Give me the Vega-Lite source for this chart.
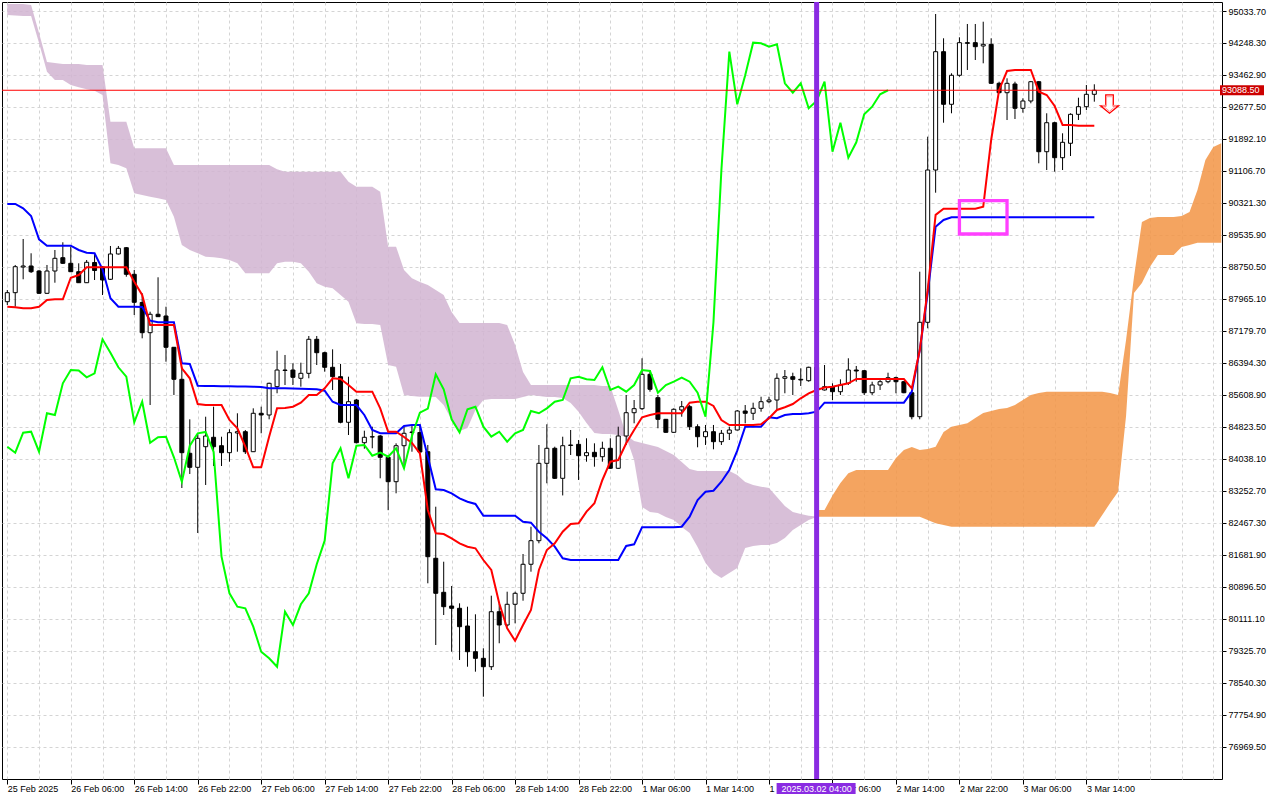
{
"$schema":"https://vega.github.io/schema/vega-lite/v6.json",
"width":1220,"height":777,
"autosize":{"type":"none"},
"padding":{"left":2,"top":2,"right":58,"bottom":21},
"background":"#ffffff",
"config":{"view":{"stroke":"#000000","strokeWidth":1},"axis":{"labelFont":"Liberation Sans","labelFontSize":9,"labelColor":"#000000","tickColor":"#000000","gridColor":"#d4d4d4","gridDash":[3,3]}},
"resolve":{"axis":{"x":"independent","y":"independent"}},
"datasets":{
"bars":[
{"t":"2025-02-25T22:00Z","o":87899,"h":88186,"l":87818,"c":88120,"tk":87776,"kj":90297,"ck":84340},
{"t":"2025-02-25T23:00Z","o":88120,"h":88800,"l":87776,"c":88758,"tk":87761,"kj":90297,"ck":84193},
{"t":"2025-02-26T00:00Z","o":88750,"h":89438,"l":88449,"c":88775,"tk":87737,"kj":90191,"ck":84684},
{"t":"2025-02-26T01:00Z","o":88775,"h":89087,"l":88603,"c":88635,"tk":87737,"kj":90002,"ck":84708},
{"t":"2025-02-26T02:00Z","o":88652,"h":88677,"l":88088,"c":88105,"tk":87776,"kj":89430,"ck":84217},
{"t":"2025-02-26T03:00Z","o":88105,"h":88800,"l":88088,"c":88652,"tk":87940,"kj":89273,"ck":85160},
{"t":"2025-02-26T04:00Z","o":88652,"h":89168,"l":88365,"c":88964,"tk":87958,"kj":89273,"ck":85118},
{"t":"2025-02-26T05:00Z","o":88979,"h":89357,"l":88824,"c":88841,"tk":87958,"kj":89273,"ck":85896},
{"t":"2025-02-26T06:00Z","o":88841,"h":89249,"l":88628,"c":88635,"tk":88488,"kj":89273,"ck":86222},
{"t":"2025-02-26T07:00Z","o":88635,"h":88841,"l":88358,"c":88365,"tk":88554,"kj":89168,"ck":86210},
{"t":"2025-02-26T08:00Z","o":88365,"h":88922,"l":88358,"c":88866,"tk":88743,"kj":89101,"ck":86043},
{"t":"2025-02-26T09:00Z","o":88861,"h":89094,"l":88431,"c":88665,"tk":88743,"kj":89087,"ck":86141},
{"t":"2025-02-26T10:00Z","o":88750,"h":88775,"l":88063,"c":88431,"tk":88743,"kj":88694,"ck":86976},
{"t":"2025-02-26T11:00Z","o":88449,"h":89266,"l":88431,"c":89070,"tk":88743,"kj":87982,"ck":86647},
{"t":"2025-02-26T12:00Z","o":89070,"h":89266,"l":89057,"c":89209,"tk":88743,"kj":87776,"ck":86289},
{"t":"2025-02-26T13:00Z","o":89224,"h":89241,"l":88512,"c":88571,"tk":88743,"kj":87776,"ck":86058},
{"t":"2025-02-26T14:00Z","o":88571,"h":88677,"l":87572,"c":87884,"tk":88390,"kj":87776,"ck":84939},
{"t":"2025-02-26T15:00Z","o":87879,"h":88105,"l":87000,"c":87138,"tk":88063,"kj":87769,"ck":85444},
{"t":"2025-02-26T16:00Z","o":87138,"h":87653,"l":85363,"c":87590,"tk":87327,"kj":87432,"ck":84438},
{"t":"2025-02-26T17:00Z","o":87590,"h":88498,"l":87523,"c":87531,"tk":87327,"kj":87393,"ck":84571},
{"t":"2025-02-26T18:00Z","o":87548,"h":87776,"l":86426,"c":86780,"tk":87327,"kj":87393,"ck":84585},
{"t":"2025-02-26T19:00Z","o":86780,"h":86787,"l":85609,"c":85994,"tk":87327,"kj":87393,"ck":84080},
{"t":"2025-02-26T20:00Z","o":85994,"h":86303,"l":83326,"c":84193,"tk":86264,"kj":86387,"ck":83481},
{"t":"2025-02-26T21:00Z","o":84178,"h":85012,"l":83670,"c":83834,"tk":86019,"kj":86370,"ck":84364},
{"t":"2025-02-26T22:00Z","o":83834,"h":84669,"l":82222,"c":84546,"tk":85388,"kj":85837,"ck":84669},
{"t":"2025-02-26T23:00Z","o":84340,"h":85076,"l":83400,"c":84603,"tk":85363,"kj":85830,"ck":84701},
{"t":"2025-02-27T00:00Z","o":84571,"h":85322,"l":83866,"c":84340,"tk":85363,"kj":85830,"ck":84210},
{"t":"2025-02-27T01:00Z","o":84364,"h":84585,"l":83866,"c":84193,"tk":85363,"kj":85822,"ck":81640},
{"t":"2025-02-27T02:00Z","o":84193,"h":84767,"l":83972,"c":84684,"tk":84995,"kj":85822,"ck":80742},
{"t":"2025-02-27T03:00Z","o":84676,"h":85160,"l":84217,"c":84708,"tk":84792,"kj":85818,"ck":80413},
{"t":"2025-02-27T04:00Z","o":84708,"h":84750,"l":84161,"c":84217,"tk":84340,"kj":85818,"ck":80374},
{"t":"2025-02-27T05:00Z","o":84217,"h":85282,"l":84210,"c":85160,"tk":83834,"kj":85813,"ck":79922},
{"t":"2025-02-27T06:00Z","o":85160,"h":85322,"l":84669,"c":85118,"tk":83834,"kj":85805,"ck":79308},
{"t":"2025-02-27T07:00Z","o":85118,"h":85911,"l":85012,"c":85896,"tk":84585,"kj":85773,"ck":79146},
{"t":"2025-02-27T08:00Z","o":85813,"h":86696,"l":85651,"c":86222,"tk":85282,"kj":85773,"ck":78940},
{"t":"2025-02-27T09:00Z","o":86222,"h":86591,"l":85854,"c":86210,"tk":85290,"kj":85773,"ck":80290},
{"t":"2025-02-27T10:00Z","o":86222,"h":86387,"l":85854,"c":86043,"tk":85322,"kj":85768,"ck":79964},
{"t":"2025-02-27T11:00Z","o":86019,"h":86402,"l":85813,"c":86141,"tk":85420,"kj":85763,"ck":80472},
{"t":"2025-02-27T12:00Z","o":86141,"h":87057,"l":86019,"c":86976,"tk":85609,"kj":85756,"ck":80742},
{"t":"2025-02-27T13:00Z","o":86976,"h":87057,"l":86345,"c":86647,"tk":85609,"kj":85749,"ck":81454},
{"t":"2025-02-27T14:00Z","o":86647,"h":86672,"l":86181,"c":86289,"tk":85773,"kj":85714,"ck":82033},
{"t":"2025-02-27T15:00Z","o":86289,"h":86730,"l":85732,"c":86058,"tk":86019,"kj":85444,"ck":83932},
{"t":"2025-02-27T16:00Z","o":86058,"h":86370,"l":84914,"c":84939,"tk":86002,"kj":85363,"ck":84301},
{"t":"2025-02-27T17:00Z","o":84939,"h":86058,"l":84627,"c":85444,"tk":85854,"kj":85363,"ck":83564},
{"t":"2025-02-27T18:00Z","o":85486,"h":85511,"l":84423,"c":84438,"tk":85690,"kj":85363,"ck":84364},
{"t":"2025-02-27T19:00Z","o":84438,"h":84733,"l":84291,"c":84571,"tk":85690,"kj":85118,"ck":84382},
{"t":"2025-02-27T20:00Z","o":84578,"h":84831,"l":84301,"c":84585,"tk":85690,"kj":84750,"ck":84119},
{"t":"2025-02-27T21:00Z","o":84603,"h":84627,"l":83564,"c":84080,"tk":85282,"kj":84669,"ck":84193},
{"t":"2025-02-27T22:00Z","o":84080,"h":84136,"l":82782,"c":83481,"tk":84708,"kj":84669,"ck":84094},
{"t":"2025-02-27T23:00Z","o":83481,"h":84423,"l":83196,"c":84364,"tk":84708,"kj":84669,"ck":84301},
{"t":"2025-02-28T00:00Z","o":84364,"h":84831,"l":83810,"c":84669,"tk":84578,"kj":84848,"ck":83810},
{"t":"2025-02-28T01:00Z","o":84688,"h":84873,"l":84217,"c":84701,"tk":84431,"kj":84873,"ck":84603},
{"t":"2025-02-28T02:00Z","o":84688,"h":84873,"l":84185,"c":84210,"tk":84178,"kj":84873,"ck":85174},
{"t":"2025-02-28T03:00Z","o":84217,"h":84382,"l":80987,"c":81640,"tk":82786,"kj":84094,"ck":85273},
{"t":"2025-02-28T04:00Z","o":81601,"h":82867,"l":79473,"c":80742,"tk":82214,"kj":83294,"ck":86117},
{"t":"2025-02-28T05:00Z","o":80766,"h":81517,"l":80209,"c":80413,"tk":82197,"kj":83277,"ck":85749},
{"t":"2025-02-28T06:00Z","o":80430,"h":80921,"l":79308,"c":80374,"tk":82092,"kj":83196,"ck":85012},
{"t":"2025-02-28T07:00Z","o":80374,"h":80496,"l":79105,"c":79922,"tk":81969,"kj":83073,"ck":84693},
{"t":"2025-02-28T08:00Z","o":79939,"h":80413,"l":78940,"c":79308,"tk":81886,"kj":82990,"ck":85258},
{"t":"2025-02-28T09:00Z","o":79308,"h":80226,"l":78818,"c":79146,"tk":81846,"kj":82934,"ck":85322},
{"t":"2025-02-28T10:00Z","o":79146,"h":79392,"l":78204,"c":78940,"tk":81559,"kj":82646,"ck":84831},
{"t":"2025-02-28T11:00Z","o":78940,"h":80683,"l":78859,"c":80290,"tk":81314,"kj":82646,"ck":84585},
{"t":"2025-02-28T12:00Z","o":80290,"h":80496,"l":79515,"c":79964,"tk":80496,"kj":82646,"ck":84708},
{"t":"2025-02-28T13:00Z","o":79964,"h":80781,"l":79922,"c":80472,"tk":79883,"kj":82646,"ck":84463},
{"t":"2025-02-28T14:00Z","o":80472,"h":80781,"l":80005,"c":80742,"tk":79578,"kj":82646,"ck":84669},
{"t":"2025-02-28T15:00Z","o":80742,"h":81706,"l":80560,"c":81454,"tk":79964,"kj":82499,"ck":84750},
{"t":"2025-02-28T16:00Z","o":81454,"h":82376,"l":81272,"c":82033,"tk":80332,"kj":82475,"ck":85216},
{"t":"2025-02-28T17:00Z","o":82033,"h":84382,"l":81969,"c":83932,"tk":81314,"kj":82254,"ck":85160},
{"t":"2025-02-28T18:00Z","o":83932,"h":84890,"l":83442,"c":84301,"tk":81805,"kj":82092,"ck":85282},
{"t":"2025-02-28T19:00Z","o":84301,"h":84340,"l":83547,"c":83564,"tk":81969,"kj":81886,"ck":85444},
{"t":"2025-02-28T20:00Z","o":83564,"h":84585,"l":83144,"c":84364,"tk":82254,"kj":81601,"ck":85486},
{"t":"2025-02-28T21:00Z","o":84369,"h":84750,"l":84136,"c":84382,"tk":82443,"kj":81559,"ck":86019},
{"t":"2025-02-28T22:00Z","o":84398,"h":84504,"l":83523,"c":84119,"tk":82460,"kj":81559,"ck":86058},
{"t":"2025-02-28T23:00Z","o":84119,"h":84546,"l":83972,"c":84193,"tk":82745,"kj":81559,"ck":85994},
{"t":"2025-03-01T00:00Z","o":84202,"h":84423,"l":83849,"c":84094,"tk":82951,"kj":81559,"ck":85977},
{"t":"2025-03-01T01:00Z","o":84094,"h":84463,"l":83972,"c":84301,"tk":83523,"kj":81559,"ck":86289},
{"t":"2025-03-01T02:00Z","o":84301,"h":84546,"l":83793,"c":83810,"tk":83972,"kj":81559,"ck":85732},
{"t":"2025-03-01T03:00Z","o":83810,"h":84831,"l":83793,"c":84603,"tk":84013,"kj":81559,"ck":85813},
{"t":"2025-03-01T04:00Z","o":84603,"h":85609,"l":84382,"c":85174,"tk":84423,"kj":81903,"ck":85690},
{"t":"2025-03-01T05:00Z","o":85174,"h":85486,"l":84914,"c":85273,"tk":84750,"kj":81944,"ck":85854},
{"t":"2025-03-01T06:00Z","o":85273,"h":86510,"l":85241,"c":86117,"tk":85062,"kj":82362,"ck":86222},
{"t":"2025-03-01T07:00Z","o":86117,"h":86222,"l":85690,"c":85749,"tk":85118,"kj":82362,"ck":86198},
{"t":"2025-03-01T08:00Z","o":85543,"h":85609,"l":84792,"c":85012,"tk":85160,"kj":82362,"ck":85665},
{"t":"2025-03-01T09:00Z","o":85012,"h":85020,"l":84684,"c":84693,"tk":85160,"kj":82362,"ck":85854},
{"t":"2025-03-01T10:00Z","o":84693,"h":85282,"l":84684,"c":85258,"tk":85160,"kj":82362,"ck":85935},
{"t":"2025-03-01T11:00Z","o":85241,"h":85462,"l":85076,"c":85322,"tk":85160,"kj":82376,"ck":86033},
{"t":"2025-03-01T12:00Z","o":85322,"h":85363,"l":84750,"c":84831,"tk":85420,"kj":82622,"ck":85935},
{"t":"2025-03-01T13:00Z","o":84831,"h":84890,"l":84325,"c":84585,"tk":85444,"kj":83032,"ck":85665},
{"t":"2025-03-01T14:00Z","o":84585,"h":84873,"l":84382,"c":84708,"tk":85444,"kj":83235,"ck":85076},
{"t":"2025-03-01T15:00Z","o":84708,"h":84873,"l":84276,"c":84463,"tk":85339,"kj":83260,"ck":87393},
{"t":"2025-03-01T16:00Z","o":84463,"h":84750,"l":84382,"c":84669,"tk":84995,"kj":83481,"ck":91131},
{"t":"2025-03-01T17:00Z","o":84669,"h":84831,"l":84504,"c":84750,"tk":84873,"kj":83768,"ck":94035},
{"t":"2025-03-01T18:00Z","o":84750,"h":85241,"l":84738,"c":85216,"tk":84873,"kj":84242,"ck":92744},
{"t":"2025-03-01T19:00Z","o":85216,"h":85363,"l":84914,"c":85160,"tk":84873,"kj":84831,"ck":93456},
{"t":"2025-03-01T20:00Z","o":85160,"h":85420,"l":84995,"c":85282,"tk":84873,"kj":84831,"ck":94256},
{"t":"2025-03-01T21:00Z","o":85282,"h":85567,"l":85199,"c":85444,"tk":84890,"kj":84831,"ck":94241},
{"t":"2025-03-01T22:00Z","o":85444,"h":85567,"l":85405,"c":85486,"tk":85037,"kj":85062,"ck":94158},
{"t":"2025-03-01T23:00Z","o":85486,"h":86141,"l":85241,"c":86019,"tk":85241,"kj":85037,"ck":94216},
{"t":"2025-03-02T00:00Z","o":86019,"h":86222,"l":85651,"c":86058,"tk":85307,"kj":85118,"ck":93259},
{"t":"2025-03-02T01:00Z","o":86058,"h":86156,"l":85609,"c":85994,"tk":85388,"kj":85142,"ck":93028},
{"t":"2025-03-02T02:00Z","o":85994,"h":86264,"l":85830,"c":85977,"tk":85528,"kj":85142,"ck":93259},
{"t":"2025-03-02T03:00Z","o":85960,"h":86303,"l":85935,"c":86289,"tk":85651,"kj":85160,"ck":92646},
{"t":"2025-03-02T04:00Z","o":86289,"h":86321,"l":85682,"c":85732,"tk":85732,"kj":85199,"ck":92825},
{"t":"2025-03-02T05:00Z","o":85732,"h":86345,"l":85719,"c":85813,"tk":85793,"kj":85420,"ck":93298},
{"t":"2025-03-02T06:00Z","o":85813,"h":85896,"l":85486,"c":85690,"tk":85813,"kj":85420,"ck":91580},
{"t":"2025-03-02T07:00Z","o":85690,"h":85994,"l":85609,"c":85854,"tk":85854,"kj":85420,"ck":92292},
{"t":"2025-03-02T08:00Z","o":85896,"h":86510,"l":85854,"c":86222,"tk":85896,"kj":85420,"ck":91433},
{"t":"2025-03-02T09:00Z","o":86222,"h":86321,"l":85935,"c":86198,"tk":86002,"kj":85420,"ck":91811},
{"t":"2025-03-02T10:00Z","o":86205,"h":86222,"l":85609,"c":85665,"tk":86002,"kj":85420,"ck":92498},
{"t":"2025-03-02T11:00Z","o":85665,"h":85935,"l":85609,"c":85854,"tk":86002,"kj":85420,"ck":92685},
{"t":"2025-03-02T12:00Z","o":85854,"h":86019,"l":85732,"c":85935,"tk":86002,"kj":85420,"ck":92989},
{"t":"2025-03-02T13:00Z","o":85935,"h":86156,"l":85896,"c":86033,"tk":86002,"kj":85420,"ck":93088.5},
{"t":"2025-03-02T14:00Z","o":86033,"h":86058,"l":85651,"c":85935,"tk":86002,"kj":85420},
{"t":"2025-03-02T15:00Z","o":85935,"h":85952,"l":85651,"c":85665,"tk":86002,"kj":85420},
{"t":"2025-03-02T16:00Z","o":85665,"h":85682,"l":85012,"c":85076,"tk":85773,"kj":85690},
{"t":"2025-03-02T17:00Z","o":85076,"h":88635,"l":85012,"c":87393,"tk":86713,"kj":86713},
{"t":"2025-03-02T18:00Z","o":87393,"h":91949,"l":87246,"c":91131,"tk":88186,"kj":88105},
{"t":"2025-03-02T19:00Z","o":91131,"h":94960,"l":90574,"c":94035,"tk":90030,"kj":89740},
{"t":"2025-03-02T20:00Z","o":94035,"h":94364,"l":92292,"c":92744,"tk":90180,"kj":89904},
{"t":"2025-03-02T21:00Z","o":92744,"h":93505,"l":92523,"c":93456,"tk":90180,"kj":89970},
{"t":"2025-03-02T22:00Z","o":93456,"h":94388,"l":93421,"c":94256,"tk":90180,"kj":89970},
{"t":"2025-03-02T23:00Z","o":94256,"h":94715,"l":93586,"c":94241,"tk":90180,"kj":89970},
{"t":"2025-03-03T00:00Z","o":94256,"h":94715,"l":93831,"c":94158,"tk":90180,"kj":89970},
{"t":"2025-03-03T01:00Z","o":94175,"h":94771,"l":93750,"c":94216,"tk":90230,"kj":89970},
{"t":"2025-03-03T02:00Z","o":94216,"h":94364,"l":93242,"c":93259,"tk":91868,"kj":89970},
{"t":"2025-03-03T03:00Z","o":93259,"h":93298,"l":93014,"c":93028,"tk":93095,"kj":89970},
{"t":"2025-03-03T04:00Z","o":93028,"h":93382,"l":92358,"c":93259,"tk":93561,"kj":89970},
{"t":"2025-03-03T05:00Z","o":93242,"h":93298,"l":92383,"c":92646,"tk":93586,"kj":89970},
{"t":"2025-03-03T06:00Z","o":92646,"h":92891,"l":92538,"c":92825,"tk":93586,"kj":89970},
{"t":"2025-03-03T07:00Z","o":92825,"h":93316,"l":92768,"c":93298,"tk":93586,"kj":89970},
{"t":"2025-03-03T08:00Z","o":93298,"h":93316,"l":91296,"c":91580,"tk":93053,"kj":89970},
{"t":"2025-03-03T09:00Z","o":91580,"h":92523,"l":91131,"c":92292,"tk":92972,"kj":89970},
{"t":"2025-03-03T10:00Z","o":92292,"h":92317,"l":91090,"c":91433,"tk":92702,"kj":89970},
{"t":"2025-03-03T11:00Z","o":91433,"h":92032,"l":91131,"c":91811,"tk":92236,"kj":89970},
{"t":"2025-03-03T12:00Z","o":91787,"h":92523,"l":91475,"c":92498,"tk":92236,"kj":89970},
{"t":"2025-03-03T13:00Z","o":92498,"h":92906,"l":92358,"c":92685,"tk":92219,"kj":89970},
{"t":"2025-03-03T14:00Z","o":92685,"h":93217,"l":92604,"c":92989,"tk":92219,"kj":89970},
{"t":"2025-03-03T15:00Z","o":92989,"h":93235,"l":92808,"c":93088.5,"tk":92219,"kj":89970}
],
"kumo":[
{"t":"2025-02-25T22:00Z","u":95206,"d":94936,"k":"bear"},
{"t":"2025-02-25T23:00Z","u":95206,"d":94923,"k":"bear"},
{"t":"2025-02-26T00:00Z","u":95206,"d":94911,"k":"bear"},
{"t":"2025-02-26T01:00Z","u":95181,"d":94911,"k":"bear"},
{"t":"2025-02-26T02:00Z","u":94494,"d":94248,"k":"bear"},
{"t":"2025-02-26T03:00Z","u":93782,"d":93544,"k":"bear"},
{"t":"2025-02-26T04:00Z","u":93757,"d":93340,"k":"bear"},
{"t":"2025-02-26T05:00Z","u":93733,"d":93340,"k":"bear"},
{"t":"2025-02-26T06:00Z","u":93733,"d":93217,"k":"bear"},
{"t":"2025-02-26T07:00Z","u":93733,"d":93161,"k":"bear"},
{"t":"2025-02-26T08:00Z","u":93708,"d":93112,"k":"bear"},
{"t":"2025-02-26T09:00Z","u":93708,"d":93078,"k":"bear"},
{"t":"2025-02-26T10:00Z","u":93708,"d":92972,"k":"bear"},
{"t":"2025-02-26T11:00Z","u":92317,"d":91296,"k":"bear"},
{"t":"2025-02-26T12:00Z","u":92317,"d":91254,"k":"bear"},
{"t":"2025-02-26T13:00Z","u":92317,"d":91173,"k":"bear"},
{"t":"2025-02-26T14:00Z","u":91664,"d":90559,"k":"bear"},
{"t":"2025-02-26T15:00Z","u":91664,"d":90518,"k":"bear"},
{"t":"2025-02-26T16:00Z","u":91664,"d":90476,"k":"bear"},
{"t":"2025-02-26T17:00Z","u":91664,"d":90437,"k":"bear"},
{"t":"2025-02-26T18:00Z","u":91664,"d":90395,"k":"bear"},
{"t":"2025-02-26T19:00Z","u":91254,"d":89985,"k":"bear"},
{"t":"2025-02-26T20:00Z","u":91254,"d":89290,"k":"bear"},
{"t":"2025-02-26T21:00Z","u":91254,"d":89168,"k":"bear"},
{"t":"2025-02-26T22:00Z","u":91254,"d":89087,"k":"bear"},
{"t":"2025-02-26T23:00Z","u":91254,"d":89003,"k":"bear"},
{"t":"2025-02-27T00:00Z","u":91254,"d":88989,"k":"bear"},
{"t":"2025-02-27T01:00Z","u":91254,"d":88964,"k":"bear"},
{"t":"2025-02-27T02:00Z","u":91254,"d":88922,"k":"bear"},
{"t":"2025-02-27T03:00Z","u":91254,"d":88841,"k":"bear"},
{"t":"2025-02-27T04:00Z","u":91254,"d":88596,"k":"bear"},
{"t":"2025-02-27T07:00Z","u":91254,"d":88596,"k":"bear"},
{"t":"2025-02-27T08:00Z","u":91148,"d":88841,"k":"bear"},
{"t":"2025-02-27T09:00Z","u":91090,"d":88881,"k":"bear"},
{"t":"2025-02-27T10:00Z","u":91090,"d":88881,"k":"bear"},
{"t":"2025-02-27T11:00Z","u":91090,"d":88841,"k":"bear"},
{"t":"2025-02-27T12:00Z","u":91090,"d":88635,"k":"bear"},
{"t":"2025-02-27T13:00Z","u":91090,"d":88350,"k":"bear"},
{"t":"2025-02-27T14:00Z","u":91090,"d":88267,"k":"bear"},
{"t":"2025-02-27T15:00Z","u":91090,"d":88228,"k":"bear"},
{"t":"2025-02-27T16:00Z","u":91090,"d":88063,"k":"bear"},
{"t":"2025-02-27T17:00Z","u":90844,"d":87899,"k":"bear"},
{"t":"2025-02-27T18:00Z","u":90721,"d":87369,"k":"bear"},
{"t":"2025-02-27T19:00Z","u":90721,"d":87351,"k":"bear"},
{"t":"2025-02-27T20:00Z","u":90721,"d":87351,"k":"bear"},
{"t":"2025-02-27T21:00Z","u":90599,"d":87327,"k":"bear"},
{"t":"2025-02-27T22:00Z","u":89249,"d":86345,"k":"bear"},
{"t":"2025-02-27T23:00Z","u":89249,"d":86303,"k":"bear"},
{"t":"2025-02-28T00:00Z","u":88677,"d":85609,"k":"bear"},
{"t":"2025-02-28T01:00Z","u":88473,"d":85584,"k":"bear"},
{"t":"2025-02-28T02:00Z","u":88382,"d":85567,"k":"bear"},
{"t":"2025-02-28T03:00Z","u":88309,"d":85567,"k":"bear"},
{"t":"2025-02-28T04:00Z","u":88186,"d":85560,"k":"bear"},
{"t":"2025-02-28T05:00Z","u":88063,"d":85363,"k":"bear"},
{"t":"2025-02-28T06:00Z","u":87646,"d":84995,"k":"bear"},
{"t":"2025-02-28T07:00Z","u":87376,"d":84725,"k":"bear"},
{"t":"2025-02-28T08:00Z","u":87376,"d":84799,"k":"bear"},
{"t":"2025-02-28T09:00Z","u":87376,"d":85241,"k":"bear"},
{"t":"2025-02-28T10:00Z","u":87376,"d":85486,"k":"bear"},
{"t":"2025-02-28T11:00Z","u":87376,"d":85511,"k":"bear"},
{"t":"2025-02-28T12:00Z","u":87376,"d":85511,"k":"bear"},
{"t":"2025-02-28T13:00Z","u":87327,"d":85511,"k":"bear"},
{"t":"2025-02-28T14:00Z","u":86836,"d":85511,"k":"bear"},
{"t":"2025-02-28T15:00Z","u":86173,"d":85560,"k":"bear"},
{"t":"2025-02-28T16:00Z","u":85854,"d":85609,"k":"bear"},
{"t":"2025-02-28T17:00Z","u":85854,"d":85584,"k":"bear"},
{"t":"2025-02-28T18:00Z","u":85854,"d":85560,"k":"bear"},
{"t":"2025-02-28T19:00Z","u":85854,"d":85560,"k":"bear"},
{"t":"2025-02-28T20:00Z","u":85854,"d":85535,"k":"bear"},
{"t":"2025-02-28T21:00Z","u":85854,"d":85412,"k":"bear"},
{"t":"2025-02-28T22:00Z","u":85854,"d":85199,"k":"bear"},
{"t":"2025-02-28T23:00Z","u":85854,"d":84922,"k":"bear"},
{"t":"2025-03-01T00:00Z","u":85854,"d":84676,"k":"bear"},
{"t":"2025-03-01T01:00Z","u":85830,"d":84652,"k":"bear"},
{"t":"2025-03-01T02:00Z","u":85830,"d":84652,"k":"bear"},
{"t":"2025-03-01T03:00Z","u":85241,"d":84627,"k":"bear"},
{"t":"2025-03-01T04:00Z","u":84627,"d":84578,"k":"bear"},
{"t":"2025-03-01T05:00Z","u":84480,"d":84013,"k":"bear"},
{"t":"2025-03-01T06:00Z","u":84431,"d":82860,"k":"bear"},
{"t":"2025-03-01T07:00Z","u":84382,"d":82737,"k":"bear"},
{"t":"2025-03-01T08:00Z","u":84333,"d":82713,"k":"bear"},
{"t":"2025-03-01T09:00Z","u":84234,"d":82614,"k":"bear"},
{"t":"2025-03-01T10:00Z","u":84136,"d":82541,"k":"bear"},
{"t":"2025-03-01T11:00Z","u":83964,"d":82369,"k":"bear"},
{"t":"2025-03-01T12:00Z","u":83793,"d":82222,"k":"bear"},
{"t":"2025-03-01T13:00Z","u":83744,"d":81878,"k":"bear"},
{"t":"2025-03-01T14:00Z","u":83744,"d":81485,"k":"bear"},
{"t":"2025-03-01T15:00Z","u":83744,"d":81240,"k":"bear"},
{"t":"2025-03-01T16:00Z","u":83744,"d":81117,"k":"bear"},
{"t":"2025-03-01T17:00Z","u":83744,"d":81240,"k":"bear"},
{"t":"2025-03-01T18:00Z","u":83645,"d":81363,"k":"bear"},
{"t":"2025-03-01T19:00Z","u":83474,"d":81854,"k":"bear"},
{"t":"2025-03-01T20:00Z","u":83400,"d":81903,"k":"bear"},
{"t":"2025-03-01T21:00Z","u":83358,"d":81927,"k":"bear"},
{"t":"2025-03-01T22:00Z","u":83326,"d":81927,"k":"bear"},
{"t":"2025-03-01T23:00Z","u":83105,"d":81976,"k":"bear"},
{"t":"2025-03-02T00:00Z","u":82884,"d":82099,"k":"bear"},
{"t":"2025-03-02T01:00Z","u":82737,"d":82295,"k":"bear"},
{"t":"2025-03-02T02:00Z","u":82688,"d":82418,"k":"bear"},
{"t":"2025-03-02T03:00Z","u":82646,"d":82541,"k":"bear"},
{"t":"2025-03-02T04:00Z","u":82627,"d":82614,"k":"bear"},
{"t":"2025-03-02T04:00Z","u":82786,"d":82622,"k":"bull"},
{"t":"2025-03-02T05:00Z","u":82786,"d":82622,"k":"bull"},
{"t":"2025-03-02T06:00Z","u":83144,"d":82622,"k":"bull"},
{"t":"2025-03-02T07:00Z","u":83449,"d":82622,"k":"bull"},
{"t":"2025-03-02T08:00Z","u":83687,"d":82622,"k":"bull"},
{"t":"2025-03-02T09:00Z","u":83768,"d":82622,"k":"bull"},
{"t":"2025-03-02T13:00Z","u":83768,"d":82622,"k":"bull"},
{"t":"2025-03-02T14:00Z","u":84063,"d":82622,"k":"bull"},
{"t":"2025-03-02T15:00Z","u":84259,"d":82622,"k":"bull"},
{"t":"2025-03-02T16:00Z","u":84333,"d":82622,"k":"bull"},
{"t":"2025-03-02T17:00Z","u":84259,"d":82622,"k":"bull"},
{"t":"2025-03-02T18:00Z","u":84283,"d":82541,"k":"bull"},
{"t":"2025-03-02T19:00Z","u":84340,"d":82460,"k":"bull"},
{"t":"2025-03-02T20:00Z","u":84701,"d":82418,"k":"bull"},
{"t":"2025-03-02T21:00Z","u":84831,"d":82376,"k":"bull"},
{"t":"2025-03-02T22:00Z","u":84873,"d":82376,"k":"bull"},
{"t":"2025-03-02T23:00Z","u":84914,"d":82376,"k":"bull"},
{"t":"2025-03-03T00:00Z","u":85044,"d":82376,"k":"bull"},
{"t":"2025-03-03T01:00Z","u":85167,"d":82376,"k":"bull"},
{"t":"2025-03-03T02:00Z","u":85216,"d":82376,"k":"bull"},
{"t":"2025-03-03T03:00Z","u":85265,"d":82376,"k":"bull"},
{"t":"2025-03-03T04:00Z","u":85290,"d":82376,"k":"bull"},
{"t":"2025-03-03T05:00Z","u":85363,"d":82376,"k":"bull"},
{"t":"2025-03-03T06:00Z","u":85486,"d":82376,"k":"bull"},
{"t":"2025-03-03T07:00Z","u":85609,"d":82376,"k":"bull"},
{"t":"2025-03-03T08:00Z","u":85658,"d":82376,"k":"bull"},
{"t":"2025-03-03T09:00Z","u":85690,"d":82376,"k":"bull"},
{"t":"2025-03-03T15:00Z","u":85690,"d":82376,"k":"bull"},
{"t":"2025-03-03T16:00Z","u":85690,"d":82664,"k":"bull"},
{"t":"2025-03-03T17:00Z","u":85658,"d":82958,"k":"bull"},
{"t":"2025-03-03T18:00Z","u":85609,"d":83235,"k":"bull"},
{"t":"2025-03-03T19:00Z","u":86959,"d":85093,"k":"bull"},
{"t":"2025-03-03T20:00Z","u":88505,"d":88112,"k":"bull"},
{"t":"2025-03-03T21:00Z","u":89855,"d":88358,"k":"bull"},
{"t":"2025-03-03T22:00Z","u":89953,"d":88750,"k":"bull"},
{"t":"2025-03-03T23:00Z","u":89978,"d":89045,"k":"bull"},
{"t":"2025-03-04T01:00Z","u":89978,"d":89045,"k":"bull"},
{"t":"2025-03-04T02:00Z","u":90002,"d":89241,"k":"bull"},
{"t":"2025-03-04T03:00Z","u":90100,"d":89290,"k":"bull"},
{"t":"2025-03-04T04:00Z","u":90640,"d":89347,"k":"bull"},
{"t":"2025-03-04T05:00Z","u":91377,"d":89347,"k":"bull"},
{"t":"2025-03-04T06:00Z","u":91696,"d":89347,"k":"bull"},
{"t":"2025-03-04T07:00Z","u":91790,"d":89347,"k":"bull"}
]
},
"layer":[
{"data":{"name":"kumo"},
 "mark":{"type":"area","clip":true,"opacity":0.85,"interpolate":"linear"},
 "encoding":{
  "x":{"field":"t","type":"temporal","scale":{"type":"utc","domain":[1740520665000,1741069665000]},
   "axis":{"orient":"bottom","values":[1740520800000,1740535200000,1740549600000,1740564000000,1740578400000,1740592800000,1740607200000,1740621600000,1740636000000,1740650400000,1740664800000,1740679200000,1740693600000,1740708000000,1740722400000,1740736800000,1740751200000,1740765600000,1740780000000,1740794400000,1740808800000,1740823200000,1740837600000,1740852000000,1740866400000,1740880800000,1740895200000,1740909600000,1740924000000,1740938400000,1740952800000,1740967200000,1740981600000,1740996000000,1741010400000,1741024800000,1741039200000,1741053600000,1741068000000],"grid":true,"labels":false,"ticks":false,"domain":false,"title":null}},
  "y":{"field":"u","type":"quantitative","stack":null,"scale":{"domain":[76183.9,95254.6],"zero":false,"nice":false},
   "axis":{"orient":"right","values":[76969.5,77754.9,78540.3,79325.7,80111.1,80896.5,81681.9,82467.3,83252.7,84038.1,84823.5,85608.9,86394.3,87179.7,87965.1,88750.5,89535.9,90321.3,91106.7,91892.1,92677.5,93462.9,94248.3,95033.7],"format":".2f","grid":true,"domain":false,"ticks":true,"tickSize":4,"labelPadding":2,"labelAlign":"left","labelBaseline":"middle","labelFlush":false,"labelOverlap":false,"labelBound":false,"title":null}},
  "y2":{"field":"d"},
  "color":{"field":"k","type":"nominal","scale":{"domain":["bear","bull"],"range":["#d1b4d1","#f29444"]},"legend":null}
 }},
{"data":{"name":"bars"},
 "mark":{"type":"rule","color":"#000000","strokeWidth":1},
 "encoding":{
  "x":{"field":"t","type":"temporal","scale":{"type":"utc","domain":[1740520665000,1741069665000]},
   "axis":{"orient":"bottom","values":[1740520800000,1740549600000,1740578400000,1740607200000,1740636000000,1740664800000,1740693600000,1740722400000,1740751200000,1740780000000,1740808800000,1740837600000,1740866400000,1740895200000,1740924000000,1740952800000,1740981600000,1741010400000],"grid":false,"domain":false,"ticks":true,"tickSize":5,"labelAlign":"left","labelBaseline":"top","labelPadding":0,"labelFlush":false,"labelOverlap":false,"labelBound":false,"title":null,"labelExpr":"datum.value < 1740528000000 ? '25 Feb 2025' : utcFormat(datum.value, '%-d %b %H:%M')"}},
  "y":{"field":"l","type":"quantitative","scale":{"domain":[76183.9,95254.6],"zero":false,"nice":false},"axis":null},
  "y2":{"field":"h"}
 }},
{"data":{"name":"bars"},
 "mark":{"type":"bar","size":4,"stroke":"#000000","strokeWidth":1},
 "encoding":{
  "x":{"field":"t","type":"temporal","scale":{"type":"utc","domain":[1740520665000,1741069665000]},"axis":null},
  "y":{"field":"o","type":"quantitative","scale":{"domain":[76183.9,95254.6],"zero":false,"nice":false},"axis":null},
  "y2":{"field":"c"},
  "fill":{"condition":{"test":"datum.c >= datum.o","value":"#ffffff"},"value":"#000000"}
 }},
{"data":{"name":"bars"},
 "mark":{"type":"line","color":"#0000ff","strokeWidth":2},
 "encoding":{
  "x":{"field":"t","type":"temporal","scale":{"type":"utc","domain":[1740520665000,1741069665000]},"axis":null},
  "y":{"field":"kj","type":"quantitative","scale":{"domain":[76183.9,95254.6],"zero":false,"nice":false},"axis":null}
 }},
{"data":{"name":"bars"},
 "mark":{"type":"line","color":"#ff0000","strokeWidth":2},
 "encoding":{
  "x":{"field":"t","type":"temporal","scale":{"type":"utc","domain":[1740520665000,1741069665000]},"axis":null},
  "y":{"field":"tk","type":"quantitative","scale":{"domain":[76183.9,95254.6],"zero":false,"nice":false},"axis":null}
 }},
{"data":{"name":"bars"},
 "mark":{"type":"line","color":"#00ff00","strokeWidth":2},
 "encoding":{
  "x":{"field":"t","type":"temporal","scale":{"type":"utc","domain":[1740520665000,1741069665000]},"axis":null},
  "y":{"field":"ck","type":"quantitative","scale":{"domain":[76183.9,95254.6],"zero":false,"nice":false},"axis":null}
 }},
{"data":{"values":[{"p":93088.5}]},
 "mark":{"type":"rule","color":"#ff0000","strokeWidth":1},
 "encoding":{
  "y":{"field":"p","type":"quantitative","scale":{"domain":[76183.9,95254.6],"zero":false,"nice":false},"axis":null}
 }},
{"data":{"values":[{"t1":"2025-03-02T22:00Z","t2":"2025-03-03T04:00Z","p1":90380,"p2":89560}],"format":{"parse":{"t1":"date","t2":"date"}}},
 "mark":{"type":"rect","fill":"transparent","stroke":"#ff40ff","strokeWidth":3.3},
 "encoding":{
  "x":{"field":"t1","type":"temporal","scale":{"type":"utc","domain":[1740520665000,1741069665000]},"axis":null},
  "x2":{"field":"t2"},
  "y":{"field":"p1","type":"quantitative","scale":{"domain":[76183.9,95254.6],"zero":false,"nice":false},"axis":null},
  "y2":{"field":"p2"}
 }},
{"data":{"values":[{"t":"2025-03-02T04:00Z"}]},
 "mark":{"type":"rule","color":"#8a2be2","strokeWidth":5},
 "encoding":{
  "x":{"field":"t","type":"temporal","scale":{"type":"utc","domain":[1740520665000,1741069665000]},"axis":null}
 }},
{"data":{"values":[{"t":"2025-03-03T16:55Z","p":92756}]},
 "mark":{"type":"point","shape":"M-0.42,-1L0.42,-1L0.42,0.22L1,0.22L0,1.05L-1,0.22L-0.42,0.22Z","size":324,"filled":true,"color":"#ffffff","stroke":"#ff0000","strokeWidth":1.3,"opacity":1},
 "encoding":{
  "x":{"field":"t","type":"temporal","scale":{"type":"utc","domain":[1740520665000,1741069665000]},"axis":null},
  "y":{"field":"p","type":"quantitative","scale":{"domain":[76183.9,95254.6],"zero":false,"nice":false},"axis":null}
 }},
{"data":{"values":[{"t":"2025-03-03T16:55Z","p":92756}]},
 "mark":{"type":"point","shape":"M-0.42,-1L0.42,-1L0.42,0.22L1,0.22L0,1.05L-1,0.22L-0.42,0.22Z","size":200,"filled":false,"fill":"transparent","stroke":"#ff9c9c","strokeWidth":1,"opacity":1},
 "encoding":{
  "x":{"field":"t","type":"temporal","scale":{"type":"utc","domain":[1740520665000,1741069665000]},"axis":null},
  "y":{"field":"p","type":"quantitative","scale":{"domain":[76183.9,95254.6],"zero":false,"nice":false},"axis":null}
 }},
{"data":{"values":[{"t":1741069665000,"p":93088.5}]},
 "mark":{"type":"rect","color":"#cc0000","xOffset":3,"x2Offset":47,"yOffset":-5,"y2Offset":5},
 "encoding":{
  "x":{"field":"t","type":"temporal","scale":{"type":"utc","domain":[1740520665000,1741069665000]},"axis":null},
  "x2":{"field":"t"},
  "y":{"field":"p","type":"quantitative","scale":{"domain":[76183.9,95254.6],"zero":false,"nice":false},"axis":null},
  "y2":{"field":"p"}
 }},
{"data":{"values":[{"t":1741069665000,"p":93088.5,"txt":"93088.50"}]},
 "mark":{"type":"text","color":"#ffffff","align":"left","baseline":"middle","dx":5,"font":"Liberation Sans","fontSize":9},
 "encoding":{
  "x":{"field":"t","type":"temporal","scale":{"type":"utc","domain":[1740520665000,1741069665000]},"axis":null},
  "y":{"field":"p","type":"quantitative","scale":{"domain":[76183.9,95254.6],"zero":false,"nice":false},"axis":null},
  "text":{"field":"txt"}
 }},
{"data":{"values":[{"t":"2025-03-02T04:00Z","p":76183.9}]},
 "mark":{"type":"rect","color":"#8a2be2","xOffset":-40,"x2Offset":39,"yOffset":4,"y2Offset":15},
 "encoding":{
  "x":{"field":"t","type":"temporal","scale":{"type":"utc","domain":[1740520665000,1741069665000]},"axis":null},
  "x2":{"field":"t"},
  "y":{"field":"p","type":"quantitative","scale":{"domain":[76183.9,95254.6],"zero":false,"nice":false},"axis":null},
  "y2":{"field":"p"}
 }},
{"data":{"values":[{"t":"2025-03-02T04:00Z","p":76183.9,"txt":"2025.03.02 04:00"}]},
 "mark":{"type":"text","color":"#ffffff","align":"center","baseline":"middle","dy":10,"font":"Liberation Sans","fontSize":9},
 "encoding":{
  "x":{"field":"t","type":"temporal","scale":{"type":"utc","domain":[1740520665000,1741069665000]},"axis":null},
  "y":{"field":"p","type":"quantitative","scale":{"domain":[76183.9,95254.6],"zero":false,"nice":false},"axis":null},
  "text":{"field":"txt"}
 }}
]
}
